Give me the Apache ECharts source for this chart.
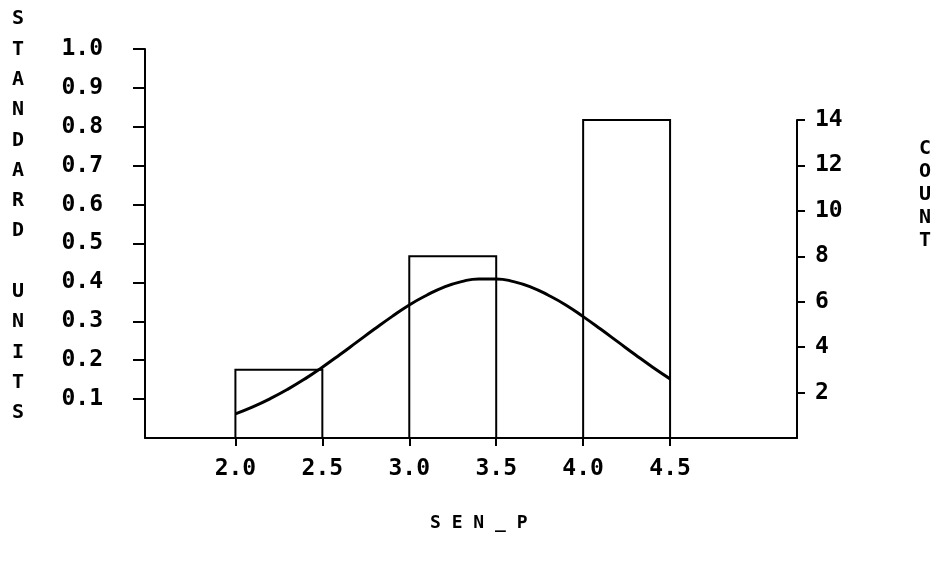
<!DOCTYPE html>
<html>
<head>
<meta charset="utf-8">
<script src="https://cdn.jsdelivr.net/npm/echarts@6/dist/echarts.min.js"></script>
<style>
html,body{margin:0;padding:0;background:#fff;}
#chart{width:939px;height:564px;}
</style>
</head>
<body>
<div id="chart"></div>
<script>
// Histogram bins (SEN_P) and counts
const binStarts = [2.0, 3.0, 4.0];
const binEnds   = [2.5, 3.5, 4.5];
const counts    = [3, 8, 14];

// Fitted curve (standard units)
const curveX = [2.0,2.1,2.2,2.3,2.4,2.5,2.6,2.7,2.8,2.9,3.0,3.1,3.2,3.3,3.4,3.5,3.6,3.7,3.8,3.9,4.0,4.1,4.2,4.3,4.4,4.5];
const curveY = [0.062,0.080,0.101,0.125,0.152,0.182,0.214,0.247,0.280,0.312,0.342,0.367,0.388,0.402,0.409,0.409,0.402,0.388,0.367,0.342,0.312,0.280,0.247,0.214,0.182,0.152];

// Tick labels
const xTicks = [2.0, 2.5, 3.0, 3.5, 4.0, 4.5];
const leftTicks = [0.1,0.2,0.3,0.4,0.5,0.6,0.7,0.8,0.9,1.0];
const rightTicks = [2,4,6,8,10,12,14];

const leftTitle = ['S','T','A','N','D','A','R','D','','U','N','I','T','S'];
const rightTitle = ['C','O','U','N','T'];
const xTitle = 'SEN_P';

const FONT = 'DejaVu Sans Mono';
const labelStyle = {color:'#000', fontFamily:FONT, fontSize:23, fontWeight:'bold'};
const lineStyle = {color:'#000', width:2};

const chart = echarts.init(document.getElementById('chart'), null, {renderer:'canvas'});

const option = {
  backgroundColor:'#fff',
  animation:false,
  grid:[
    {left:145, right:142, top:49, bottom:126},
    {left:145, right:142, top:120, bottom:126}
  ],
  xAxis:[
    {
      type:'value', gridIndex:0, min:1.48, max:5.23,
      axisLine:{show:true, lineStyle:lineStyle},
      axisTick:{show:true, length:8, lineStyle:lineStyle, customValues:xTicks},
      axisLabel:{show:true, margin:20, customValues:xTicks,
        formatter:v=>v.toFixed(1), ...labelStyle},
      splitLine:{show:false}
    },
    {
      type:'value', gridIndex:1, min:1.48, max:5.23, show:false
    }
  ],
  yAxis:[
    {
      type:'value', gridIndex:0, position:'left', min:0, max:1.0, interval:0.1,
      axisLine:{show:true, lineStyle:lineStyle},
      axisTick:{show:true, length:12, lineStyle:lineStyle, customValues:leftTicks},
      axisLabel:{show:true, margin:42, customValues:leftTicks,
        formatter:v=>v.toFixed(1), ...labelStyle},
      splitLine:{show:false}
    },
    {
      type:'value', gridIndex:1, position:'right', min:0, max:14, interval:2,
      axisLine:{show:true, lineStyle:lineStyle},
      axisTick:{show:true, length:8, lineStyle:lineStyle, customValues:rightTicks},
      axisLabel:{show:true, margin:18, customValues:rightTicks,
        formatter:v=>String(v), ...labelStyle},
      splitLine:{show:false}
    }
  ],
  series:[
    {
      type:'custom',
      xAxisIndex:1, yAxisIndex:1,
      data: counts.map((c,i)=>[binStarts[i], binEnds[i], c]),
      renderItem:function(params, api){
        const p0 = api.coord([api.value(0), api.value(2)]);
        const p1 = api.coord([api.value(1), 0]);
        return {
          type:'rect',
          shape:{x:p0[0], y:p0[1], width:p1[0]-p0[0], height:p1[1]-p0[1]},
          style:{fill:null, stroke:'#000', lineWidth:2}
        };
      },
      silent:true
    },
    {
      type:'line',
      xAxisIndex:0, yAxisIndex:0,
      data: curveX.map((x,i)=>[x, curveY[i]]),
      showSymbol:false, symbol:'none', smooth:true,
      lineStyle:{color:'#000', width:3},
      silent:true
    }
  ],
  graphic:[
    {
      type:'text', left:12, top:4,
      style:{text:leftTitle.join('\n'), fill:'#000', font:'bold 20px "DejaVu Sans Mono"',
        lineHeight:30.3, align:'center'}
    },
    {
      type:'text', left:919, top:137,
      style:{text:rightTitle.join('\n'), fill:'#000', font:'bold 20px "DejaVu Sans Mono"',
        lineHeight:23, align:'center'}
    },
    {
      type:'text', left:430, top:514,
      style:{text:xTitle.split('').join(' '), fill:'#000', font:'bold 18px "DejaVu Sans Mono"'}
    }
  ]
};
chart.setOption(option);
</script>
</body>
</html>
